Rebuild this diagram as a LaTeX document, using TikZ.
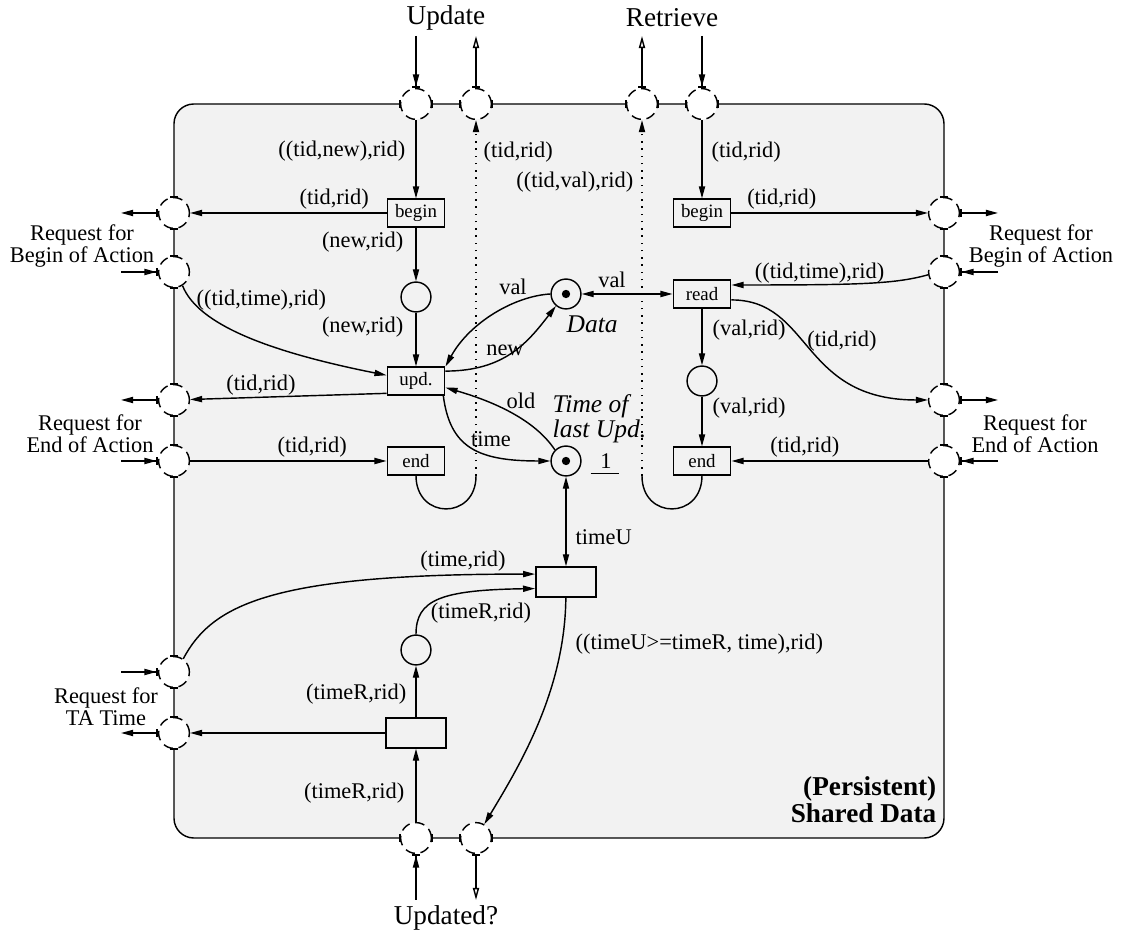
\documentclass[tikz,border=0pt]{standalone}
\usepackage{fontspec}
\setmainfont{Liberation Serif}
\usetikzlibrary{arrows.meta}
\definecolor{netgray}{gray}{0.95}
\tikzset{
  >={Triangle[length=5.5pt,width=2.8pt]},
  arc/.style={->},
  biarc/.style={<->},
  outarc/.style={{Bar[width=3.6pt]}->},
  outarc open/.style={{Bar[width=3.6pt]}-{Triangle[open,length=5.5pt,width=2.8pt]}},
  inarc/.style={-{Triangle[length=5.5pt,width=2.8pt]Bar[width=3.6pt]}},
  inarc open/.style={-{Triangle[open,length=5.5pt,width=2.8pt]Bar[width=3.6pt]}},
  link/.style={dash pattern=on 0.7pt off 2.6pt},
  place/.style={draw,circle,minimum size=13.6pt,inner sep=0pt},
  trans/.style={draw,rectangle,minimum width=26.2pt,minimum height=12.6pt,inner sep=0pt,
    font=\fontsize{8.6}{10}\selectfont},
  guard/.style={draw,rectangle,minimum width=27.5pt,minimum height=13.6pt,inner sep=0pt},
  port/.style={draw,circle,fill=white,dash pattern=on 4.4pt off 2.6pt,minimum size=14pt,inner sep=0pt},
  lbl/.style={inner sep=0pt,font=\fontsize{10.2}{10}\selectfont},
  iface/.style={inner sep=0pt,align=center,font=\fontsize{10.2}{10}\selectfont},
  title/.style={inner sep=0pt,font=\fontsize{12.4}{15}\selectfont},
  pname/.style={inner sep=0pt,align=left,font=\fontsize{11.6}{10.3}\selectfont\itshape},
  netname/.style={inner sep=0pt,align=right,font=\fontsize{12.4}{12.4}\selectfont\bfseries}
}
\begin{document}
\begin{tikzpicture}[x=0.016cm,y=-0.016cm,line width=0.65pt]
\useasboundingbox (0,0) rectangle (1125,936);
\draw[fill=netgray,rounded corners=9pt] (174,104) rectangle (944,838);

% interface ports on the border, with the free end of each outer arc
\foreach \n/\x/\y/\u/\v in {
    pUi/416/104/416/36, pUo/476/104/476/36, pRo/642/104/642/36, pRi/702/104/702/36,
    pLbo/174/213/121/213, pLbi/174/272/121/272, pLeo/174/400/121/400, pLei/174/461/121/461,
    pLti/174/672/121/672, pLto/174/733/121/733,
    pRbo/944/213/998/213, pRbi/944/272/998/272, pReo/944/400/998/400, pRei/944/461/998/461,
    pDi/416/838/416/900, pDo/476/838/476/900}{
  \node[port] (\n) at (\x,\y) {};
  \coordinate (o\n) at (\u,\v);
}
\foreach \n in {pLbo,pLbi,pLeo,pLei,pLti,pLto,pRbo,pRbi,pReo,pRei}
  \draw ([xshift=-1.8pt]\n.north) -- ([xshift=1.8pt]\n.north)
        ([xshift=-1.8pt]\n.south) -- ([xshift=1.8pt]\n.south);
\foreach \n in {pUi,pUo,pRo,pRi,pDi,pDo}
  \draw ([yshift=-1.8pt]\n.west) -- ([yshift=1.8pt]\n.west)
        ([yshift=-1.8pt]\n.east) -- ([yshift=1.8pt]\n.east);

\draw[inarc] (opUi) -- (pUi);
\draw[outarc open] (pUo) -- (opUo);
\draw[outarc open] (pRo) -- (opRo);
\draw[inarc] (opRi) -- (pRi);
\draw[outarc] (pLbo) -- (opLbo);
\draw[inarc open] (opLbi) -- (pLbi);
\draw[outarc] (pLeo) -- (opLeo);
\draw[inarc open] (opLei) -- (pLei);
\draw[inarc open] (opLti) -- (pLti);
\draw[outarc] (pLto) -- (opLto);
\draw[outarc] (pRbo) -- (opRbo);
\draw[inarc open] (opRbi) -- (pRbi);
\draw[outarc] (pReo) -- (opReo);
\draw[inarc open] (opRei) -- (pRei);
\draw[inarc] (opDi) -- (pDi);
\draw[outarc open] (pDo) -- (opDo);

% transitions and places
\node[trans] (beginU) at (416,213) {begin};
\node[trans] (beginR) at (702,213) {begin};
\node[trans] (read) at (702,294) {read};
\node[trans] (upd) at (416,381) {upd.};
\node[trans] (endU) at (416,461) {end};
\node[trans] (endR) at (702,461) {end};
\node[guard] (chk) at (566,582) {};
\node[guard] (req) at (416,733) {};
\node[place] (pnew) at (416,297) {};
\node[place] (data) at (566,294) {};
\node[place] (pval) at (702,381) {};
\node[place] (tlast) at (566,461) {};
\node[place] (ptime) at (416,650) {};
\fill (data.center) circle (1.9pt);
\fill (tlast.center) circle (1.9pt);
\coordinate (jU) at (476,476);
\coordinate (jR) at (642,476);

% update side
\draw[arc] (pUi) -- (beginU);
\draw[arc] (beginU) -- (pLbo);
\draw[arc] (beginU) -- (pnew);
\draw[arc] (pnew) -- (upd);
\draw[arc] (pLbi.-58) .. controls (198,325) and (270,352) .. ([yshift=2.6pt]upd.west);
\draw[arc] ([yshift=1pt]upd.south west) -- (pLeo);
\draw[arc] (data.west) .. controls (515,296) and (470,322) .. (upd.north east);
\draw[arc] ([yshift=4.5pt]upd.east) .. controls (505,371) and (528,342) .. (data.-130);
\draw[arc] (tlast.135) .. controls (535,420) and (495,402) .. ([yshift=-3pt]upd.east);
\draw[arc] ([xshift=-1pt]upd.south east) .. controls (450,448) and (478,461) .. (tlast.west);
\draw[arc] (pLei) -- (endU);
\draw (endU.south) .. controls (416,520) and (476,520) .. (jU);
\draw[arc,link] (jU) -- (pUo);

% retrieve side
\draw[arc] (pRi) -- (beginR);
\draw[arc] (beginR) -- (pRbo);
\draw[biarc] (data) -- (read);
\draw[arc] (pRbi.190) .. controls (895,284) and (860,285) .. ([yshift=4.1pt]read.east);
\draw[arc] ([yshift=-2.7pt]read.east) .. controls (812,300) and (800,400) .. (pReo);
\draw[arc] (read) -- (pval);
\draw[arc] (pval) -- (endR);
\draw[arc] (pRei) -- (endR);
\draw (endR.south) .. controls (702,520) and (642,520) .. (jR);
\draw[arc,link] (jR) -- (pRo);

% time check
\draw[biarc] (tlast) -- (chk);
\draw[arc] (pLti.55) .. controls (212,605) and (270,574) .. ([yshift=3.6pt]chk.west);
\draw[arc] (ptime) .. controls (416,600) and (440,590) .. ([yshift=-3pt]chk.west);
\draw[arc] (chk) .. controls (565,690) and (520,765) .. (pDo);
\draw[arc] (pDi) -- (req);
\draw[arc] (req) -- (ptime);
\draw[arc] (req) -- (pLto);

\node[title] (tUpd) at (446,18) {Update};
\node[title] (tRet) at (672,18) {Retrieve};
\node[title] (tUpdd) at (446,918) {Updated?};
\node[iface] (iLb) at (82,246) {Request for\\Begin of Action};
\node[iface] (iLe) at (90,434) {Request for\\End of Action};
\node[iface] (iLt) at (106,707) {Request for\\TA Time};
\node[iface] (iRb) at (1041,246) {Request for\\Begin of Action};
\node[iface] (iRe) at (1035,434) {Request for\\End of Action};

\node[lbl,anchor=east] (a1) at (406,151) {((tid,new),rid)};
\node[lbl,anchor=west] (a2) at (483,152) {(tid,rid)};
\node[lbl,anchor=east] (a3) at (634,182) {((tid,val),rid)};
\node[lbl,anchor=west] (a4) at (711,152) {(tid,rid)};
\node[lbl,anchor=west] (a5) at (299,199) {(tid,rid)};
\node[lbl,anchor=east] (a6) at (817,199) {(tid,rid)};
\node[lbl,anchor=east] (a7) at (404,242) {(new,rid)};
\node[lbl,anchor=west] (a8) at (196,300) {((tid,time),rid)};
\node[lbl,anchor=east] (a9) at (885,273) {((tid,time),rid)};
\node[lbl] (a10) at (513,287) {val};
\node[lbl] (a11) at (612,280) {val};
\node[lbl,anchor=east] (a12) at (404,327) {(new,rid)};
\node[lbl,anchor=west] (a13) at (712,330) {(val,rid)};
\node[lbl] (a14) at (842,341) {(tid,rid)};
\node[lbl] (a15) at (505,350) {new};
\node[lbl] (a16) at (261,385) {(tid,rid)};
\node[lbl] (a17) at (521,401) {old};
\node[lbl,anchor=west] (a18) at (712,408) {(val,rid)};
\node[lbl] (a19) at (491,439) {time};
\node[lbl,anchor=west] (a20) at (277,447) {(tid,rid)};
\node[lbl,anchor=east] (a21) at (840,447) {(tid,rid)};
\node[lbl] (a22) at (606,461) {1};
\draw ([xshift=-7pt,yshift=-2pt]a22.south) -- ([xshift=6pt,yshift=-2pt]a22.south);
\node[lbl,anchor=west] (a23) at (575,537) {timeU};
\node[lbl] (a24) at (463,561) {(time,rid)};
\node[lbl] (a25) at (481,613) {(timeR,rid)};
\node[lbl,anchor=west] (a26) at (575,644) {((timeU>=timeR, time),rid)};
\node[lbl,anchor=east] (a27) at (407,694) {(timeR,rid)};
\node[lbl,anchor=east] (a28) at (405,793) {(timeR,rid)};

\node[pname,anchor=west] (nData) at (566,324) {Data};
\node[pname,anchor=west] (nTime) at (552,419) {Time of\\last Upd.};
\node[netname,anchor=east] (nNet) at (937,800) {(Persistent)\\Shared Data};
\end{tikzpicture}
\end{document}
